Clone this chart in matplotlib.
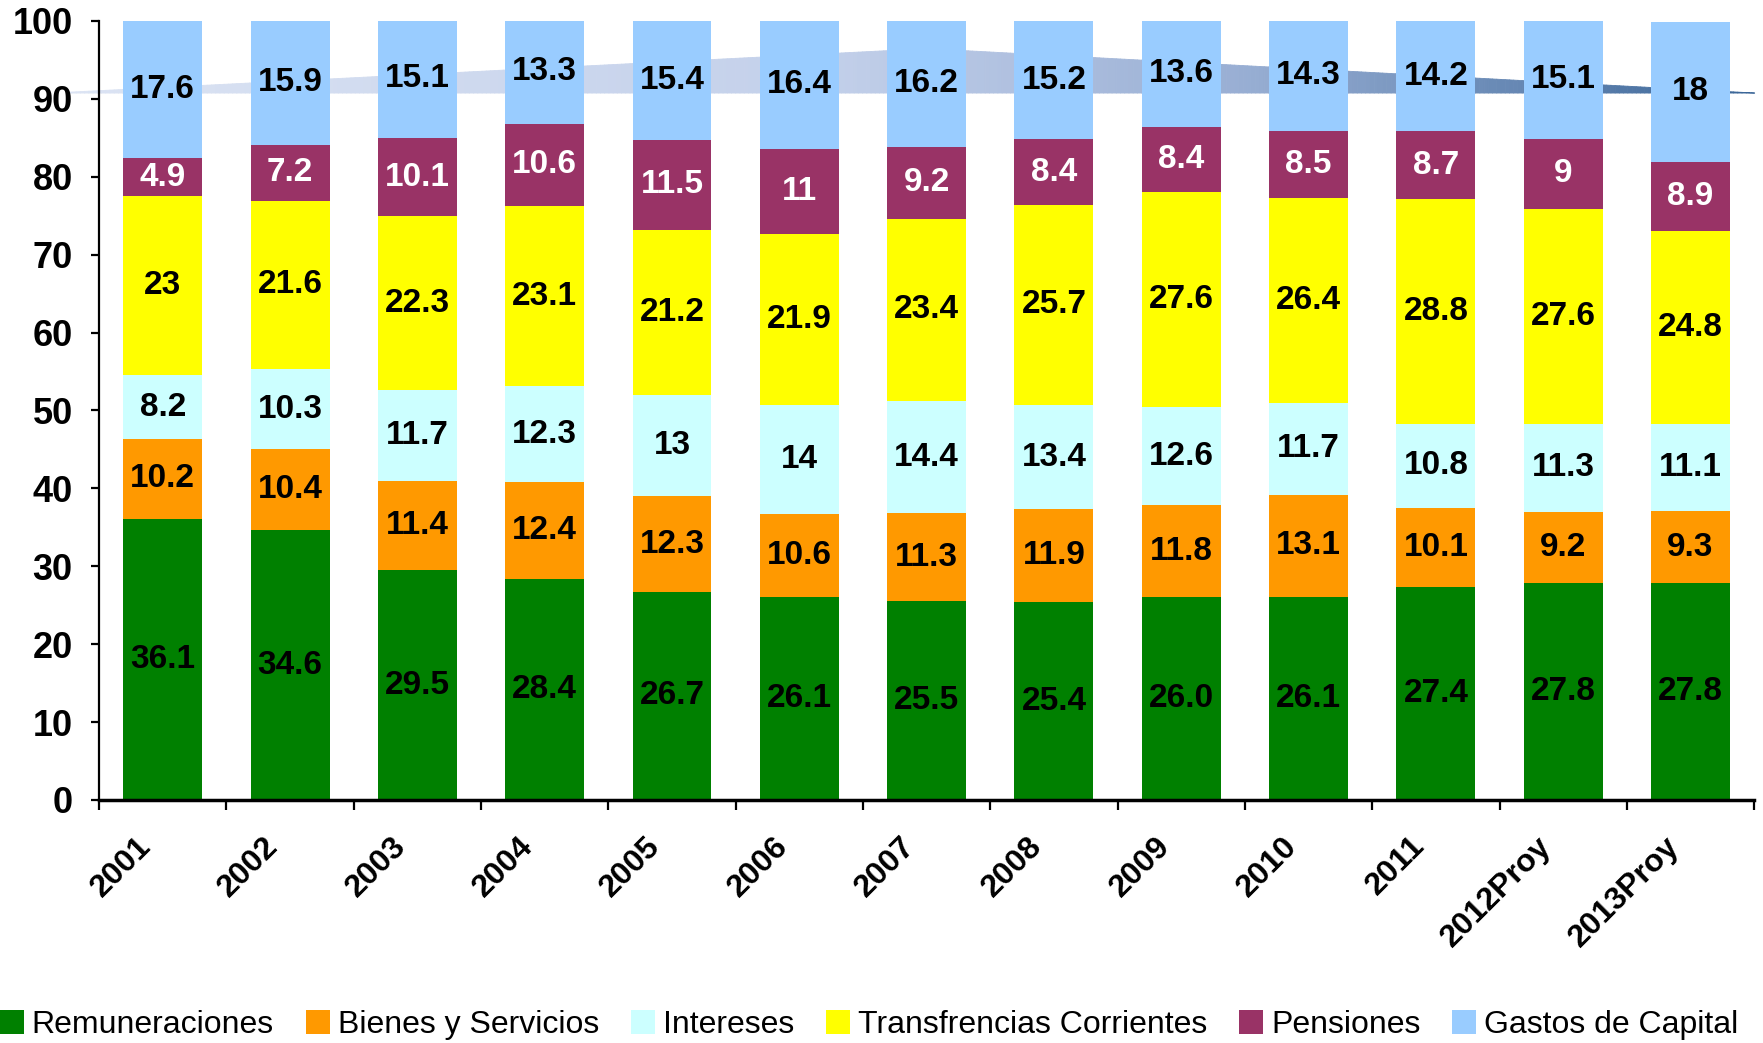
import numpy as np
import matplotlib
matplotlib.use('Agg')
import matplotlib.pyplot as plt
import matplotlib.transforms as mtransforms
from matplotlib.colors import LinearSegmentedColormap

plt.rcParams['font.family'] = ['Liberation Sans', 'DejaVu Sans']

years = ['2001', '2002', '2003', '2004', '2005', '2006', '2007',
         '2008', '2009', '2010', '2011', '2012Proy', '2013Proy']

remuneraciones = [36.1, 34.6, 29.5, 28.4, 26.7, 26.1, 25.5, 25.4, 26.0, 26.1, 27.4, 27.8, 27.8]
bienes = [10.2, 10.4, 11.4, 12.4, 12.3, 10.6, 11.3, 11.9, 11.8, 13.1, 10.1, 9.2, 9.3]
intereses = [8.2, 10.3, 11.7, 12.3, 13, 14, 14.4, 13.4, 12.6, 11.7, 10.8, 11.3, 11.1]
transferencias = [23, 21.6, 22.3, 23.1, 21.2, 21.9, 23.4, 25.7, 27.6, 26.4, 28.8, 27.6, 24.8]
pensiones = [4.9, 7.2, 10.1, 10.6, 11.5, 11, 9.2, 8.4, 8.4, 8.5, 8.7, 9, 8.9]
gastos_capital = [17.6, 15.9, 15.1, 13.3, 15.4, 16.4, 16.2, 15.2, 13.6, 14.3, 14.2, 15.1, 18]

series = [
    ('Remuneraciones', remuneraciones, '#008000', 'black', '%.1f'),
    ('Bienes y Servicios', bienes, '#FF9900', 'black', '%g'),
    ('Intereses', intereses, '#CCFFFF', 'black', '%g'),
    ('Transfrencias Corrientes', transferencias, '#FFFF00', 'black', '%g'),
    ('Pensiones', pensiones, '#993366', 'white', '%g'),
    ('Gastos de Capital', gastos_capital, '#99CCFF', 'black', '%g'),
]

fig = plt.figure(figsize=(17.63, 10.43), dpi=100)
ax = fig.add_axes([0.0562, 0.233, 0.9388, 0.747])

# decorative arrow band behind the bars (left tip, peak, right tip)
arrow_x = [-0.75, 6.0, 12.5]
arrow_top = [90.9, 96.5, 90.8]
arrow_base = 90.8
cmap = LinearSegmentedColormap.from_list(
    'band', [(0, '#dbe3f3'), (0.45, '#c3d0ea'), (0.7, '#98aed3'), (1, '#3b6698')])
xs = np.linspace(arrow_x[0], arrow_x[-1], 400)
top = np.interp(xs, arrow_x, arrow_top)
for i in range(len(xs) - 1):
    c = cmap(i / (len(xs) - 2))
    ax.fill_between(xs[i:i + 2], arrow_base, top[i:i + 2], color=c,
                    lw=0.6, edgecolor=c, clip_on=False, zorder=1)

x = np.arange(len(years))
bottom = np.zeros(len(years))
for name, vals, color, tcolor, fmt in series:
    vals = np.array(vals)
    ax.bar(x, vals, 0.62, bottom=bottom, color=color, label=name, zorder=2)
    for xi, b, v in zip(x, bottom, vals):
        ax.text(xi, b + v / 2, fmt % v, ha='center', va='center',
                color=tcolor, fontsize=24, fontweight='bold', zorder=3)
    bottom += vals

ax.set_xlim(-0.5, len(years) - 0.5)
ax.set_ylim(0, 100)
ax.set_yticks(range(0, 101, 10))
ax.set_xticks(x)
ax.set_xticks(np.arange(-0.5, len(years), 1), minor=True)
ax.set_xticklabels(years, rotation=45, ha='right', va='center',
                   rotation_mode='anchor')
ax.tick_params(axis='x', which='major', length=0, pad=30, labelsize=23)
ax.tick_params(axis='x', which='minor', length=7, width=1.6, direction='out')
ax.tick_params(axis='y', length=6, width=1.6, pad=13, labelsize=26)
shift = mtransforms.ScaledTranslation(-16 / 100, 0, fig.dpi_scale_trans)
for lab in ax.get_xticklabels():
    lab.set_fontweight('bold')
    lab.set_transform(lab.get_transform() + shift)
for lab in ax.get_yticklabels():
    lab.set_fontweight('bold')

for s in ['top', 'right']:
    ax.spines[s].set_visible(False)
ax.spines['left'].set_linewidth(1.6)
ax.spines['bottom'].set_linewidth(2.5)

fig.legend(loc='center', bbox_to_anchor=(0.493, 0.017), ncol=6, frameon=False,
           fontsize=23, handlelength=0.75, handleheight=0.75,
           handletextpad=0.25, columnspacing=1.0, borderaxespad=0)

fig.savefig('out.png', dpi=100)
